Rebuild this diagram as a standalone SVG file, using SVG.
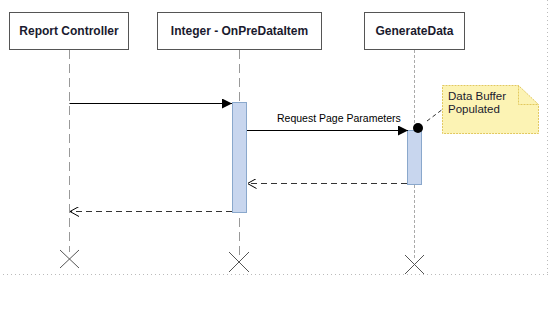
<svg xmlns="http://www.w3.org/2000/svg" width="549" height="315" viewBox="0 0 549 315">
<defs>
<style>
.box{fill:#fff;stroke:#555;stroke-width:1}
.title{font-family:"Liberation Sans",Arial,sans-serif;font-weight:bold;font-size:12px;fill:#1a1a2e;text-anchor:middle}
.life{stroke:#999;stroke-width:1;stroke-dasharray:9,5;fill:none}
.life2{stroke:#aaa;stroke-width:1;stroke-dasharray:3,2;fill:none}
.act{fill:#c8d6ee;stroke:#8aa8cc;stroke-width:1}
.msg{stroke:#000;stroke-width:1;fill:none}
.ret{stroke:#333;stroke-width:1;stroke-dasharray:6,4;fill:none}
.lbl{font-family:"Liberation Sans",Arial,sans-serif;font-size:10.5px;fill:#000}
.note{font-family:"Liberation Sans",Arial,sans-serif;font-size:11.5px;fill:#1a1a2e}
.x{stroke:#555;stroke-width:1;fill:none}
.frame{stroke:#bbb;stroke-width:1;stroke-dasharray:1,3;fill:none}
</style>
<marker id="fill" markerWidth="10" markerHeight="10" refX="10" refY="5" orient="auto" markerUnits="userSpaceOnUse">
<path d="M0,0 L10,5 L0,10 Z" fill="#000"/>
</marker>
<marker id="open" markerWidth="10" markerHeight="10" refX="10" refY="5" orient="auto" markerUnits="userSpaceOnUse">
<path d="M1,0 L10,5 L1,10" fill="none" stroke="#000" stroke-width="1"/>
</marker>
</defs>
<rect width="549" height="315" fill="#fff"/>
<line class="frame" x1="3" y1="274.5" x2="548" y2="274.5"/>
<line class="frame" x1="547.5" y1="0" x2="547.5" y2="274"/>

<g id="report-controller">
<rect class="box" x="9.5" y="12.5" width="119" height="37"/>
<text class="title" x="69" y="35">Report Controller</text>
<line class="life" x1="69.5" y1="50" x2="69.5" y2="252"/>
<path class="x" d="M60,250 L79,268 M79,250 L60,268"/>
</g>

<g id="integer-onpredataitem">
<rect class="box" x="157.5" y="12.5" width="164" height="37"/>
<text class="title" x="239.5" y="35">Integer - OnPreDataItem</text>
<line class="life" x1="239.5" y1="50" x2="239.5" y2="256"/>
<rect class="act" x="232.5" y="102.5" width="14" height="110"/>
<path class="x" d="M229,252 L249,272 M249,252 L229,272"/>
</g>

<g id="generatedata">
<rect class="box" x="364.5" y="12.5" width="100" height="37"/>
<text class="title" x="414.5" y="35">GenerateData</text>
<line class="life2" x1="414.5" y1="50" x2="414.5" y2="258"/>
<rect class="act" x="407.5" y="130.5" width="14" height="54"/>
<path class="x" d="M405,255 L424,274 M424,255 L405,274"/>
</g>

<g id="note-data-buffer">
<path d="M442.5,85.5 L518.5,85.5 L538.5,104.5 L538.5,133.5 L442.5,133.5 Z" fill="#fcf3b4" stroke="#e2c85e" stroke-width="1" stroke-dasharray="2,1"/>
<path d="M518.5,85.5 L518.5,104.5 L538.5,104.5" fill="none" stroke="#e2c85e" stroke-width="1" stroke-dasharray="2,1"/>
<text class="note" x="448" y="100">Data Buffer</text>
<text class="note" x="448" y="113">Populated</text>
</g>

<g id="connectors">
<line class="msg" x1="69.5" y1="103.5" x2="232" y2="103.5" marker-end="url(#fill)"/>
<line class="msg" x1="247" y1="130.5" x2="408" y2="130.5" marker-end="url(#fill)"/>
<text class="lbl" x="277" y="122">Request Page Parameters</text>
<circle cx="418" cy="128" r="5" fill="#000"/>
<line x1="427" y1="121" x2="443" y2="109" stroke="#333" stroke-width="1" stroke-dasharray="4,3"/>
<line class="ret" x1="407" y1="183.5" x2="247.5" y2="183.5" marker-end="url(#open)"/>
<line class="ret" x1="232" y1="211.5" x2="70" y2="211.5" marker-end="url(#open)"/>
</g>
</svg>
